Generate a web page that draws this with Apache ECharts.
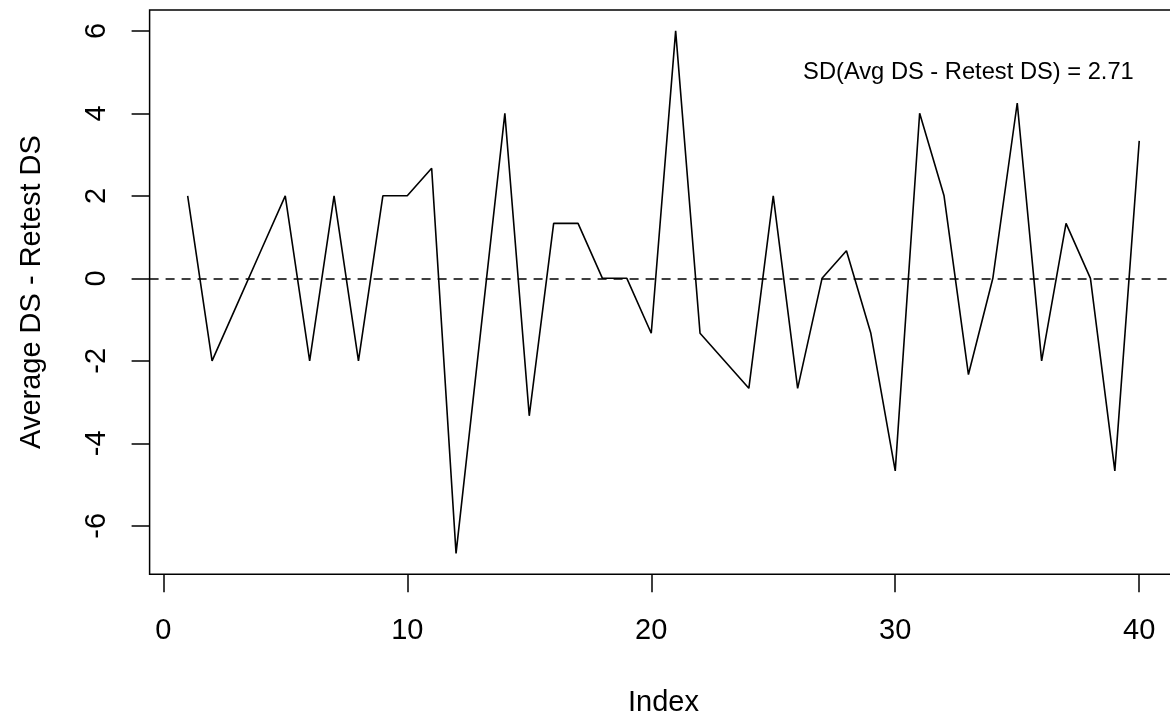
<!DOCTYPE html>
<html>
<head>
<meta charset="utf-8">
<script src="https://cdn.jsdelivr.net/npm/echarts@6/dist/echarts.min.js"></script>
<style>
html,body{margin:0;padding:0;background:#fff;overflow:hidden;}
#chart{width:1170px;height:717px;}
</style>
</head>
<body>
<div id="chart"></div>
<script>
const indexValues = [1,2,3,4,5,6,7,8,9,10,11,12,13,14,15,16,17,18,19,20,21,22,23,24,25,26,27,28,29,30,31,32,33,34,35,36,37,38,39,40];
const diffValues = [2,-2,-0.667,0.667,2,-2,2,-2,2,2,2.667,-6.667,-1.333,4,-3.333,1.333,1.333,0,0,-1.333,6,-1.333,-2,-2.667,2,-2.667,0,0.667,-1.333,-4.667,4,2,-2.333,0,4.25,-2,1.333,0,-4.667,3.333];
const xTicks = [0,10,20,30,40];
const yTicks = [-6,-4,-2,0,2,4,6];
const annotationText = 'SD(Avg DS - Retest DS) = 2.71';
const annotationPos = [33, 5];
const xTitle = 'Index';
const yTitle = 'Average DS - Retest DS';

const FONT = '"Liberation Sans", Arial, sans-serif';
const chart = echarts.init(document.getElementById('chart'), null, {renderer: 'canvas'});
const pts = indexValues.map((x, i) => [x, diffValues[i]]);

chart.setOption({
  animation: false,
  backgroundColor: '#fff',
  grid: {
    left: 149.6, top: 9.9, width: 1027.7, height: 564.3,
    containLabel: false, outerBoundsMode: 'none',
    show: true, borderColor: '#000', borderWidth: 1.5, backgroundColor: 'transparent'
  },
  xAxis: {
    type: 'value', min: -0.56, max: 41.56,
    name: xTitle, nameLocation: 'middle', nameGap: 114,
    nameTextStyle: {fontFamily: FONT, fontSize: 29, color: '#000'},
    axisLine: {show: false, onZero: false},
    splitLine: {show: false},
    axisTick: {show: true, length: 18, lineStyle: {color: '#000', width: 1.5}, customValues: xTicks},
    axisLabel: {show: true, margin: 42, fontFamily: FONT, fontSize: 29, color: '#000', customValues: xTicks, formatter: v => String(v)}
  },
  yAxis: {
    type: 'value', min: -7.173, max: 6.507,
    name: yTitle, nameLocation: 'middle', nameGap: 103, nameRotate: 90,
    nameTextStyle: {fontFamily: FONT, fontSize: 29, color: '#000'},
    axisLine: {show: false, onZero: false},
    splitLine: {show: false},
    axisTick: {show: true, length: 18, lineStyle: {color: '#000', width: 1.5}, customValues: yTicks},
    axisLabel: {show: true, rotate: 90, margin: 38, fontFamily: FONT, fontSize: 29, color: '#000', customValues: yTicks, formatter: v => String(v)}
  },
  series: [{
    type: 'line',
    data: pts,
    showSymbol: false,
    symbol: 'none',
    lineStyle: {color: '#000', width: 1.6},
    markLine: {
      silent: true, symbol: 'none',
      label: {show: false},
      lineStyle: {color: '#000', width: 1.5, type: [9, 7]},
      data: [{yAxis: 0}]
    },
    markPoint: {
      silent: true,
      symbol: 'rect', symbolSize: [1, 1],
      itemStyle: {color: 'rgba(0,0,0,0)'},
      label: {show: true, position: 'inside', formatter: annotationText, fontFamily: FONT, fontSize: 23.7, color: '#000'},
      data: [{coord: annotationPos}]
    }
  }]
});
</script>
</body>
</html>
